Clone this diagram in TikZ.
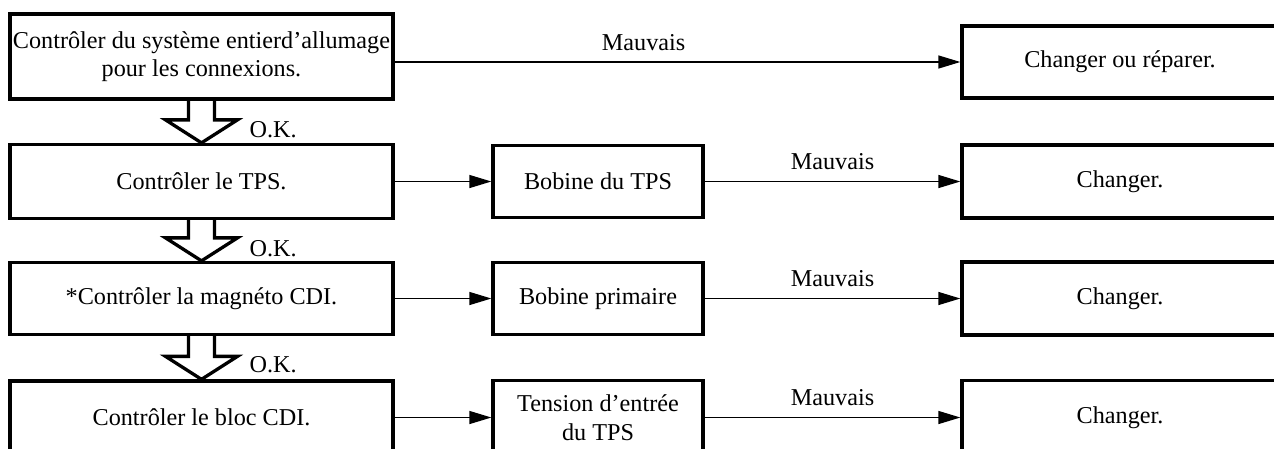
\documentclass[tikz,border=0pt]{standalone}
\usepackage{fontspec}
\setmainfont{Liberation Serif}
\usetikzlibrary{arrows.meta,calc}
\newcommand\okarrow[3]{%
  \draw[hollow] ($(#1.south)+(-13,0)$) -- ($(#2.north)+(-13,-23)$) -- ($(#2.north)+(-36,-23)$) -- (#2.north) -- ($(#2.north)+(36,-23)$) -- ($(#2.north)+(13,-23)$) -- ($(#1.south)+(13,0)$);
  \node[lbl, anchor=west] (#3) at ($(#1.south)+(48,29)$) {O.K.};}
\begin{document}
\begin{tikzpicture}[x=1pt,y=-1pt,
  txt/.style={font=\fontsize{24.2}{28.5}\selectfont},
  box/.style={draw, line width=3.3pt, rectangle, align=center, inner sep=0pt, txt},
  lbl/.style={inner sep=0pt, txt},
  flow/.style={line width=1.3pt, -{Triangle[length=22pt,width=13pt]}},
  hollow/.style={line width=3.3pt, line join=miter}]
\clip (0,0) rectangle (1274,448);
% left column
\node[box, minimum width=383, minimum height=85] (b1) at (201.5,56.5) {Contrôler du système entierd’allumage\\pour les connexions.};
\node[box, minimum width=383, minimum height=74] (b2) at (201.5,181.5) {Contrôler le TPS.};
\node[box, minimum width=383, minimum height=72] (b3) at (201.5,298.5) {*Contrôler la magnéto CDI.};
\node[box, minimum width=383, minimum height=73] (b4) at (201.5,417.5) {Contrôler le bloc CDI.};
% middle column
\node[box, minimum width=210, minimum height=72] (m2) at (598,181.5) {Bobine du TPS};
\node[box, minimum width=210, minimum height=72] (m3) at (598,298.5) {Bobine primaire};
\node[box, minimum width=210, minimum height=74] (m4) at (598,417.5) {Tension d’entrée\\du TPS};
% right column
\node[box, minimum width=316, minimum height=72] (r1) at (1120,62) {Changer ou réparer.};
\node[box, minimum width=316, minimum height=73] (r2) at (1120,181.5) {Changer.};
\node[box, minimum width=316, minimum height=73] (r3) at (1120,298.5) {Changer.};
\node[box, minimum width=316, minimum height=74] (r4) at (1120,417.5) {Changer.};
% connectors
\draw[flow] (b1.east |- r1.west) -- (r1.west) node[lbl, pos=0.44, anchor=base, yshift=12pt] (l1) {Mauvais};
\draw[flow] (b2.east) -- (m2.west);
\draw[flow] (m2.east) -- (r2.west) node[lbl, midway, anchor=base, yshift=12pt] (l2) {Mauvais};
\draw[flow] (b3.east) -- (m3.west);
\draw[flow] (m3.east) -- (r3.west) node[lbl, midway, anchor=base, yshift=12pt] (l3) {Mauvais};
\draw[flow] (b4.east) -- (m4.west);
\draw[flow] (m4.east) -- (r4.west) node[lbl, midway, anchor=base, yshift=12pt] (l4) {Mauvais};
% hollow OK arrows
\okarrow{b1}{b2}{ok1}
\okarrow{b2}{b3}{ok2}
\okarrow{b3}{b4}{ok3}
\end{tikzpicture}
\end{document}
